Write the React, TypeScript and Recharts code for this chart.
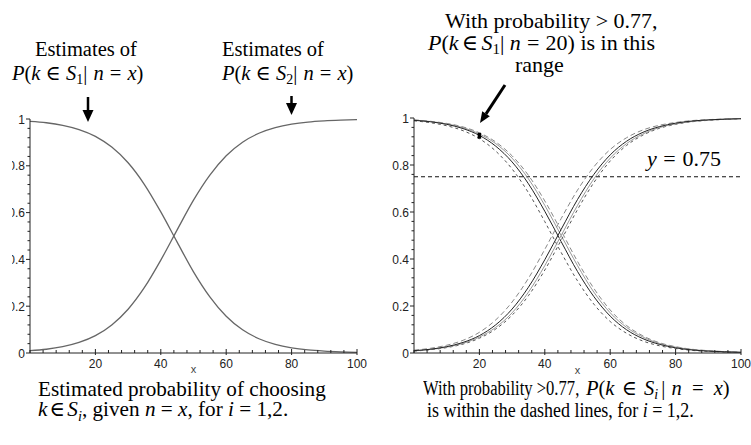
import React from 'react';
import { LineChart, Line, XAxis, YAxis, ReferenceLine } from 'recharts';

// ---------- data ----------
const xs = [0, 5, 10, 15, 20, 25, 30, 35, 40, 45, 50, 55, 60, 65, 70, 75, 80, 85, 90, 95, 100];

// left panel: estimates
const s1Est = [0.990, 0.984, 0.973, 0.955, 0.926, 0.880, 0.813, 0.720, 0.603, 0.474, 0.347, 0.240, 0.157, 0.099, 0.061, 0.037, 0.022, 0.013, 0.008, 0.005, 0.003];
const s2Est = [0.010, 0.016, 0.027, 0.045, 0.074, 0.120, 0.187, 0.280, 0.397, 0.526, 0.653, 0.760, 0.843, 0.901, 0.939, 0.963, 0.978, 0.987, 0.992, 0.995, 0.997];

// right panel: estimates and bounds
const s1Mid = [0.990, 0.984, 0.973, 0.955, 0.926, 0.880, 0.813, 0.720, 0.603, 0.474, 0.347, 0.240, 0.157, 0.099, 0.061, 0.037, 0.022, 0.013, 0.008, 0.005, 0.003];
const s1Alt = [0.991, 0.985, 0.975, 0.959, 0.932, 0.891, 0.829, 0.741, 0.628, 0.500, 0.372, 0.259, 0.171, 0.109, 0.068, 0.041, 0.025, 0.015, 0.009, 0.005, 0.003];
const s1Lo = [0.988, 0.980, 0.967, 0.946, 0.912, 0.859, 0.783, 0.682, 0.559, 0.428, 0.307, 0.208, 0.134, 0.084, 0.051, 0.031, 0.019, 0.011, 0.007, 0.004, 0.002];
const s1Hi = [0.992, 0.986, 0.977, 0.962, 0.937, 0.898, 0.839, 0.756, 0.647, 0.520, 0.390, 0.275, 0.183, 0.117, 0.073, 0.044, 0.027, 0.016, 0.010, 0.006, 0.003];
const s2Mid = [0.010, 0.016, 0.027, 0.045, 0.074, 0.120, 0.187, 0.280, 0.397, 0.526, 0.653, 0.760, 0.843, 0.901, 0.939, 0.963, 0.978, 0.987, 0.992, 0.995, 0.997];
const s2Alt = [0.009, 0.015, 0.025, 0.041, 0.068, 0.109, 0.171, 0.259, 0.372, 0.500, 0.628, 0.741, 0.829, 0.891, 0.932, 0.959, 0.975, 0.985, 0.991, 0.995, 0.997];
const s2Lo = [0.008, 0.014, 0.023, 0.038, 0.063, 0.102, 0.161, 0.244, 0.353, 0.480, 0.610, 0.725, 0.817, 0.883, 0.927, 0.956, 0.973, 0.984, 0.990, 0.994, 0.997];
const s2Hi = [0.012, 0.020, 0.033, 0.054, 0.088, 0.141, 0.217, 0.318, 0.441, 0.572, 0.693, 0.792, 0.866, 0.916, 0.949, 0.969, 0.981, 0.989, 0.993, 0.996, 0.998];

const thresholdY = 0.75;
const markX = 20;

// ticks
const xTicks = [0, 4, 8, 12, 16, 20, 24, 28, 32, 36, 40, 44, 48, 52, 56, 60, 64, 68, 72, 76, 80, 84, 88, 92, 96, 100];
const xTickLabels = [20, 40, 60, 80, 100];
const yTicks = [0, 0.04, 0.08, 0.12, 0.16, 0.2, 0.24, 0.28, 0.32, 0.36, 0.4, 0.44, 0.48, 0.52, 0.56, 0.6, 0.64, 0.68, 0.72, 0.76, 0.8, 0.84, 0.88, 0.92, 0.96, 1];
const yTickLabels = [0, 0.2, 0.4, 0.6, 0.8, 1];

const leftData = xs.map((x, i) => ({ x, s1: s1Est[i], s2: s2Est[i] }));
const rightData = xs.map((x, i) => ({
  x,
  s1Mid: s1Mid[i], s1Alt: s1Alt[i], s1Lo: s1Lo[i], s1Hi: s1Hi[i],
  s2Mid: s2Mid[i], s2Alt: s2Alt[i], s2Lo: s2Lo[i], s2Hi: s2Hi[i],
}));
const markIdx = xs.indexOf(markX);

// ---------- ticks ----------
const tickFont = { fontFamily: '"Liberation Sans", Arial, sans-serif', fontSize: 12, fill: '#222' };

const XTick = (props: any) => {
  const { x, y, payload } = props;
  const v = payload.value;
  const major = xTickLabels.some((l) => Math.abs(l - v) < 1e-6);
  return (
    <g>
      <line x1={x} x2={x} y1={y - (major ? 4 : 3)} y2={y + (major ? 2 : 0)} stroke="#222" strokeWidth={1} />
      {major && (
        <text x={x} y={y + 14.5} textAnchor="middle" {...tickFont}>{String(v)}</text>
      )}
    </g>
  );
};

const YTick = (props: any) => {
  const { x, y, payload } = props;
  const v = payload.value;
  const major = yTickLabels.some((l) => Math.abs(l - v) < 1e-6);
  const label = v === 0 ? '0' : v === 1 ? '1' : v.toFixed(1);
  return (
    <g>
      <line x1={x - (major ? 4 : 2.5)} x2={x} y1={y} y2={y} stroke="#222" strokeWidth={1} />
      {major && (
        <text x={x - 5} y={y + 4.5} textAnchor="end" {...tickFont}>{label}</text>
      )}
    </g>
  );
};

// ---------- text helpers ----------
const I = ({ children }: { children: React.ReactNode }) => <i>{children}</i>;
const Sub = ({ children }: { children: React.ReactNode }) => (
  <span style={{ fontSize: '0.68em', position: 'relative', top: '0.3em' }}>{children}</span>
);
const Op = ({ children, m = 0.25 }: { children: React.ReactNode; m?: number }) => (
  <span style={{ margin: `0 ${m}em` }}>{children}</span>
);
const Sp = ({ w = 0.3 }: { w?: number }) => <span style={{ marginLeft: `${w}em` }} />;

const serif: React.CSSProperties = {
  position: 'absolute',
  fontFamily: '"Liberation Serif", "Times New Roman", Times, "DejaVu Serif", serif',
  lineHeight: 0.9,
  whiteSpace: 'nowrap',
  color: '#000',
  transformOrigin: '0 0',
};

const T = ({ left, top, size = 20.5, sx = 1, children }: { left: number; top: number; size?: number; sx?: number; children: React.ReactNode }) => (
  <div style={{ ...serif, left, top, fontSize: size, transform: sx !== 1 ? `scaleX(${sx})` : undefined }}>{children}</div>
);

export default function App() {
  return (
    <div style={{ position: 'absolute', left: 0, top: 0, width: 751, height: 445, background: '#fff', overflow: 'hidden' }}>
      {/* left chart */}
      <div style={{ position: 'absolute', left: 0, top: 0 }}>
        <LineChart width={380} height={445} data={leftData} margin={{ top: 119, right: 23, left: 0, bottom: 62 }}>
          <XAxis
            dataKey="x" type="number" domain={[0, 100]} ticks={xTicks} interval={0}
            height={30} tickSize={0} tickMargin={0} tick={<XTick />}
            axisLine={{ stroke: '#222', strokeWidth: 1 }}
            label={{ value: 'x', position: 'insideBottom', offset: 10, style: { ...tickFont, fill: '#444', fontSize: 11 } }}
          />
          <YAxis
            type="number" domain={[0, 1]} ticks={yTicks} interval={0}
            width={30} tickSize={0} tickMargin={0} tick={<YTick />}
            axisLine={{ stroke: '#222', strokeWidth: 1 }}
          />
          <Line type="monotone" dataKey="s1" stroke="#666" strokeWidth={1.3} dot={false} isAnimationActive={false} />
          <Line type="monotone" dataKey="s2" stroke="#666" strokeWidth={1.3} dot={false} isAnimationActive={false} />
        </LineChart>
      </div>

      {/* right chart */}
      <div style={{ position: 'absolute', left: 380, top: 0 }}>
        <LineChart width={371} height={445} data={rightData} margin={{ top: 118, right: 10, left: 0, bottom: 62 }}>
          <XAxis
            dataKey="x" type="number" domain={[0, 100]} ticks={xTicks} interval={0}
            height={30} tickSize={0} tickMargin={0} tick={<XTick />}
            axisLine={{ stroke: '#222', strokeWidth: 1 }}
            label={{ value: 'x', position: 'insideBottom', offset: 9, style: { ...tickFont, fill: '#444', fontSize: 11 } }}
          />
          <YAxis
            type="number" domain={[0, 1]} ticks={yTicks} interval={0}
            width={34} tickSize={0} tickMargin={0} tick={<YTick />}
            axisLine={{ stroke: '#222', strokeWidth: 1 }}
          />
          <ReferenceLine y={thresholdY} stroke="#111" strokeDasharray="4 3" strokeWidth={1} />
          <Line type="monotone" dataKey="s1Lo" stroke="#555" strokeDasharray="3 3" strokeWidth={1} dot={false} isAnimationActive={false} />
          <Line type="monotone" dataKey="s1Hi" stroke="#888" strokeDasharray="5 3" strokeWidth={1} dot={false} isAnimationActive={false} />
          <Line type="monotone" dataKey="s1Alt" stroke="#999" strokeWidth={1} dot={false} isAnimationActive={false} />
          <Line type="monotone" dataKey="s1Mid" stroke="#222" strokeWidth={1} dot={false} isAnimationActive={false} />
          <Line type="monotone" dataKey="s2Lo" stroke="#555" strokeDasharray="3 3" strokeWidth={1} dot={false} isAnimationActive={false} />
          <Line type="monotone" dataKey="s2Hi" stroke="#888" strokeDasharray="5 3" strokeWidth={1} dot={false} isAnimationActive={false} />
          <Line type="monotone" dataKey="s2Alt" stroke="#999" strokeWidth={1} dot={false} isAnimationActive={false} />
          <Line type="monotone" dataKey="s2Mid" stroke="#222" strokeWidth={1} dot={false} isAnimationActive={false} />
          <ReferenceLine
            segment={[{ x: markX, y: s1Lo[markIdx] }, { x: markX, y: s1Hi[markIdx] }]}
            stroke="#000" strokeWidth={3.5}
          />
        </LineChart>
      </div>

      {/* mask: left tick labels are cut at the image edge */}
      <div style={{ position: 'absolute', left: 0, top: 140, width: 12, height: 200, background: '#fff' }} />

      {/* arrows */}
      <svg width={751} height={445} style={{ position: 'absolute', left: 0, top: 0, pointerEvents: 'none' }}>
        <line x1={88} y1={97} x2={88} y2={112} stroke="#000" strokeWidth={2.5} />
        <polygon points="82.5,110 93.5,110 88,122" fill="#000" />
        <line x1={291.5} y1={96} x2={291.5} y2={105} stroke="#000" strokeWidth={2.5} />
        <polygon points="286,103 297,103 291.5,115" fill="#000" />
        <line x1={505} y1={85} x2={486} y2={113.8} stroke="#000" strokeWidth={3} />
        <polygon points="480,123 489.8,116.3 482.2,111.3" fill="#000" />
      </svg>

      {/* annotations above left chart */}
      <T left={35} top={39.9}>Estimates of</T>
      <T left={12} top={63.9}><I>P</I>(<I>k</I><Op>∈</Op><I>S</I><Sub>1</Sub>|<Sp /><I>n</I><Op m={0.3}>=</Op><I>x</I>)</T>
      <T left={222} top={39.9}>Estimates of</T>
      <T left={222} top={63.9}><I>P</I>(<I>k</I><Op>∈</Op><I>S</I><Sub>2</Sub>|<Sp /><I>n</I><Op m={0.3}>=</Op><I>x</I>)</T>

      {/* annotations above right chart */}
      <T left={445} top={11} size={22}>With probability &gt; 0.77,</T>
      <T left={428} top={32.7} size={22}><I>P</I>(<I>k</I><Op m={0.15}>∈</Op><I>S</I><Sub>1</Sub>|<Sp w={0.25} /><I>n</I><Op m={0.28}>=</Op>20) is in this</T>
      <T left={515} top={54.7} size={22}>range</T>
      <T left={647} top={149.4} size={22}><I>y</I><Op m={0.3}>=</Op>0.75</T>

      {/* captions */}
      <T left={38} top={380.3} size={21.2}>Estimated probability of choosing</T>
      <T left={38} top={400.3} size={21.2}><I>k</I><Op m={0.1}>∈</Op><I>S</I><Sub><I>i</I></Sub>, given <I>n</I> = <I>x</I>, for <I>i</I> = 1,2.</T>
      <T left={423} top={378.9} sx={0.81}>With probability &gt;0.77,</T>
      <T left={586} top={378.9}><I>P</I>(<I>k</I><Op m={0.35}>∈</Op><I>S</I><Sub><I>i</I></Sub><Sp w={0.15} />|<Sp w={0.3} /><I>n</I><Op m={0.5}>=</Op><I>x</I>)</T>
      <T left={427} top={400.9} sx={0.875}>is within the dashed lines, for <I>i</I> = 1,2.</T>
    </div>
  );
}
